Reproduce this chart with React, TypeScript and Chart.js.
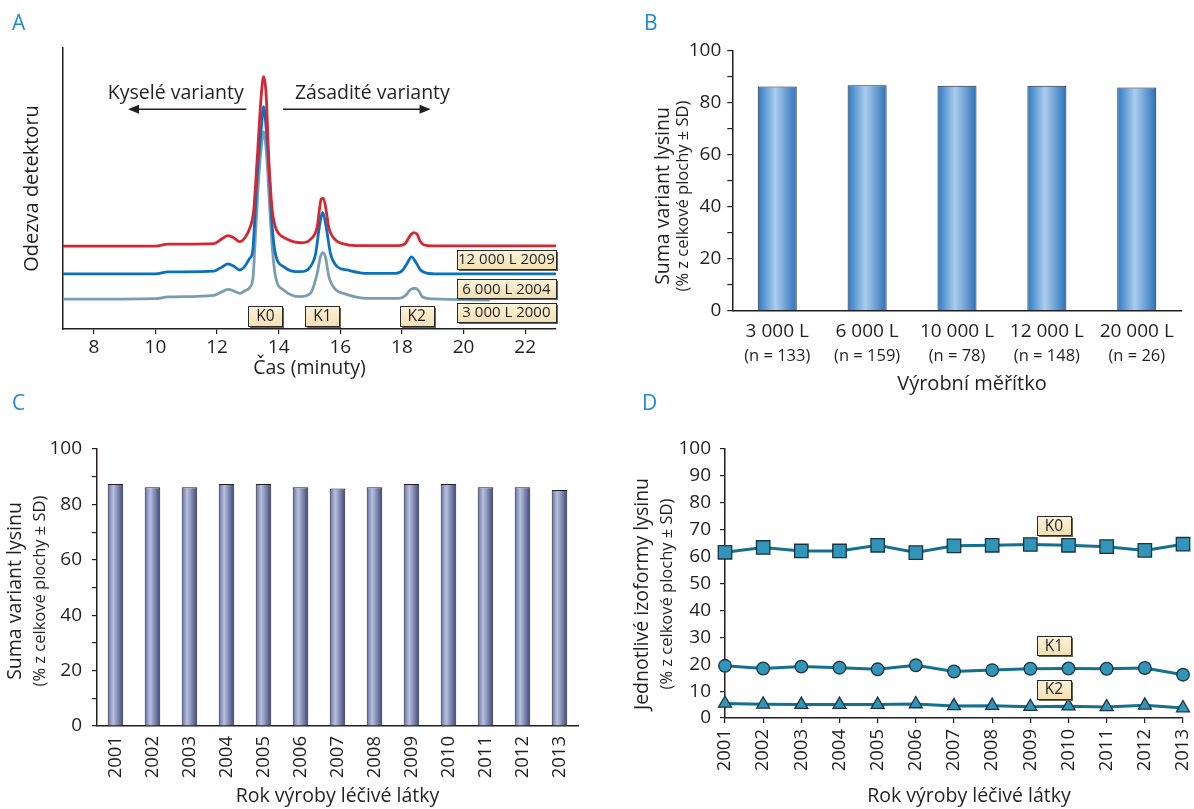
import React, { useEffect, useRef } from 'react';
import { Chart, registerables } from 'chart.js';

Chart.register(...registerables);

const FONT = "'Open Sans', 'Noto Sans', 'DejaVu Sans', sans-serif";
const INK = '#231f20';
const LETTER = '#1c8ad3';

// ---------- Panel A: chromatograms (time in minutes, detector response in arbitrary units) ----------
const timeTicks = [8, 10, 12, 14, 16, 18, 20, 22];
const trace2009: [number, number][] = [
  [7, 29.5], [10, 29.5], [10.4, 30.2], [11.9, 30.4], [12.15, 32.0], [12.35, 33.2], [12.55, 32.4],
  [12.73, 31.1], [12.9, 32.4], [13.08, 36.4], [13.19, 42.3], [13.3, 60.1], [13.44, 83.9], [13.51, 89.8],
  [13.59, 83.9], [13.68, 60.1], [13.79, 42.3], [13.89, 36.4], [14.0, 34.0], [14.2, 32.4], [14.5, 31.0],
  [14.75, 30.7], [15.03, 31.9], [15.25, 36.4], [15.32, 42.3], [15.38, 46.2], [15.45, 46.5], [15.54, 42.3],
  [15.62, 36.4], [15.84, 31.7], [16.1, 30.3], [16.5, 29.7], [17.9, 29.7], [18.1, 30.3], [18.25, 33.0],
  [18.38, 34.3], [18.5, 33.6], [18.58, 31.5], [18.7, 30.0], [19.0, 29.6], [23, 29.6],
];
const trace2004: [number, number][] = [
  [7, 19.6], [10, 19.6], [10.4, 20.3], [11.9, 20.6], [12.15, 22.0], [12.35, 23.2], [12.55, 22.3],
  [12.73, 21.0], [12.9, 22.3], [13.05, 25.0], [13.16, 28.0], [13.21, 36.4], [13.3, 54.2], [13.44, 72.0],
  [13.51, 79.1], [13.59, 72.0], [13.7, 54.2], [13.79, 36.4], [13.89, 27.0], [14.16, 22.2], [14.7, 20.4],
  [15.03, 22.2], [15.2, 26.9], [15.32, 36.4], [15.43, 41.4], [15.54, 36.4], [15.68, 26.9], [15.9, 22.2],
  [16.22, 21.0], [16.87, 19.8], [17.8, 19.8], [18.03, 21.0], [18.17, 23.4], [18.31, 25.7], [18.47, 23.4],
  [18.6, 21.0], [18.8, 19.9], [19.2, 19.6], [23, 19.6],
];
const trace2000: [number, number][] = [
  [7, 10.6], [10, 10.8], [10.4, 11.4], [11.9, 12.0], [12.15, 13.2], [12.35, 14.1], [12.55, 13.5],
  [12.73, 12.7], [12.9, 13.6], [13.08, 15.1], [13.17, 18.6], [13.23, 30.0], [13.32, 48.3], [13.42, 63.0],
  [13.51, 70.2], [13.6, 63.0], [13.7, 45.0], [13.8, 28.0], [13.9, 18.5], [14.16, 13.9], [14.7, 11.5],
  [15.03, 12.7], [15.25, 19.8], [15.35, 25.5], [15.43, 27.2], [15.52, 25.5], [15.63, 18.6], [15.85, 14.0],
  [16.1, 12.7], [16.87, 10.9], [17.9, 10.9], [18.1, 11.8], [18.28, 14.0], [18.42, 14.5], [18.55, 13.6],
  [18.66, 11.5], [19.03, 10.7], [20.85, 10.3],
];
const traceNames = ['12 000 L 2009', '6 000 L 2004', '3 000 L 2000'];
const peakNames = ['K0', 'K1', 'K2'];
const peakTimes = [13.57, 15.42, 18.48];

// ---------- Panel B: production scale ----------
const scaleNames = ['3 000 L', '6 000 L', '10 000 L', '12 000 L', '20 000 L'];
const scaleCounts = ['(n = 133)', '(n = 159)', '(n = 78)', '(n = 148)', '(n = 26)'];
const scaleSums = [86.2, 86.7, 86.5, 86.5, 85.8];

// ---------- Panel C / D: production year ----------
const years = ['2001', '2002', '2003', '2004', '2005', '2006', '2007', '2008', '2009', '2010', '2011', '2012', '2013'];
const yearSums = [87.4, 86.2, 86.2, 87.4, 87.4, 86.2, 85.7, 86.2, 87.4, 87.4, 86.2, 86.2, 85.2];
const k0Values = [61.6, 63.4, 62.1, 62.1, 64.2, 61.5, 64.0, 64.2, 64.5, 64.2, 63.7, 62.3, 64.6];
const k1Values = [19.4, 18.4, 19.1, 18.7, 18.1, 19.6, 17.3, 17.8, 18.3, 18.4, 18.3, 18.6, 16.1];
const k2Values = [5.4, 5.1, 5.0, 5.0, 5.0, 5.2, 4.5, 4.6, 4.2, 4.4, 4.1, 4.7, 3.7];
const isoNames = ['K0', 'K1', 'K2'];

// ---------- drawing helpers ----------
function text(ctx: CanvasRenderingContext2D, s: string, x: number, y: number, size: number,
  align: CanvasTextAlign = 'center', color = INK, rotate = false) {
  ctx.save();
  ctx.font = `${size}px ${FONT}`;
  ctx.fillStyle = color;
  ctx.textAlign = align;
  ctx.textBaseline = 'middle';
  if (rotate) {
    ctx.translate(x, y);
    ctx.rotate(-Math.PI / 2);
    ctx.fillText(s, 0, 0);
  } else {
    ctx.fillText(s, x, y);
  }
  ctx.restore();
}

function letter(ctx: CanvasRenderingContext2D, s: string, x: number, baseline: number) {
  ctx.save();
  ctx.font = `21px ${FONT}`;
  ctx.fillStyle = LETTER;
  ctx.textAlign = 'left';
  ctx.textBaseline = 'alphabetic';
  ctx.fillText(s, x, baseline);
  ctx.restore();
}

function tag(ctx: CanvasRenderingContext2D, s: string, cx: number, cy: number, w: number, h: number, size: number) {
  ctx.save();
  const x = Math.round(cx - w / 2) + 0.5;
  const y = Math.round(cy - h / 2) + 0.5;
  ctx.fillStyle = '#6a604f';
  ctx.fillRect(x + 1.5, y + 1.5, w, h);
  const g = ctx.createLinearGradient(0, y, 0, y + h);
  g.addColorStop(0, '#fcf2d8');
  g.addColorStop(1, '#f2e0b2');
  ctx.fillStyle = g;
  ctx.fillRect(x, y, w, h);
  ctx.strokeStyle = '#2a2a2a';
  ctx.lineWidth = 1;
  ctx.strokeRect(x, y, w, h);
  ctx.restore();
  text(ctx, s, cx, cy + 0.5, size);
}

function arrow(ctx: CanvasRenderingContext2D, x1: number, x2: number, y: number) {
  const dir = x2 > x1 ? 1 : -1;
  ctx.save();
  ctx.strokeStyle = INK;
  ctx.fillStyle = INK;
  ctx.lineWidth = 1.5;
  ctx.beginPath();
  ctx.moveTo(x1, y);
  ctx.lineTo(x2 - dir * 8, y);
  ctx.stroke();
  ctx.beginPath();
  ctx.moveTo(x2, y);
  ctx.lineTo(x2 - dir * 11, y - 4.5);
  ctx.lineTo(x2 - dir * 11, y + 4.5);
  ctx.closePath();
  ctx.fill();
  ctx.restore();
}

function barFill(stops: [number, string][], pct: number) {
  return (c: any) => {
    const chart = c.chart;
    const xs = chart.scales && chart.scales.x;
    if (c.type !== 'data' || !xs || !chart.chartArea) return stops[1][1];
    const n = chart.data.labels.length;
    const cx = xs.getPixelForValue(c.dataIndex);
    const w = (xs.width / n) * pct;
    const g = chart.ctx.createLinearGradient(cx - w / 2, 0, cx + w / 2, 0);
    stops.forEach(([o, col]) => g.addColorStop(o, col));
    return g;
  };
}

const tickFont = { family: FONT, size: 19 };
const noPlugins = { legend: { display: false }, tooltip: { enabled: false } };

function overlay(draw: (chart: any) => void) {
  return { id: 'overlay', afterDraw: (chart: any) => draw(chart) };
}

// fix the axis box size and drop the automatic edge padding for overflowing labels
function fixBox(prop: 'width' | 'height', size: number) {
  return (s: any) => {
    s[prop] = size;
    s.paddingLeft = 0;
    s.paddingRight = 0;
    s.paddingTop = 0;
    s.paddingBottom = 0;
  };
}

// ---------- configs ----------
function configA(): any {
  const colors = ['#d62631', '#0b70be', '#7b9db0'];
  const traces = [trace2009, trace2004, trace2000];
  return {
    type: 'line',
    data: {
      datasets: traces.map((t, i) => ({
        label: traceNames[i],
        data: t.map(([x, y]) => ({ x, y })),
        borderColor: colors[i],
        borderWidth: 2.8,
        pointRadius: 0,
        cubicInterpolationMode: 'monotone',
        fill: false,
      })),
    },
    options: {
      animation: false,
      responsive: false,
      layout: { padding: { left: 0, top: 48, right: 41, bottom: 0 } },
      plugins: noPlugins,
      scales: {
        x: {
          type: 'linear', min: 7, max: 23,
          afterBuildTicks: (s: any) => { s.ticks = timeTicks.map((v) => ({ value: v })); },
          afterFit: fixBox('height', 400 - 329),
          grid: { display: true, drawOnChartArea: false, tickLength: 5, color: INK, lineWidth: 1.2 },
          border: { display: true, color: INK, width: 1.5 },
          ticks: { font: tickFont, color: INK, padding: 2, maxRotation: 0, autoSkip: false },
        },
        y: {
          type: 'linear', min: 0, max: 100,
          afterFit: fixBox('width', 63),
          grid: { display: false },
          border: { display: true, color: INK, width: 1.5 },
          ticks: { display: false },
        },
      },
    },
    plugins: [overlay((chart) => {
      const { ctx, chartArea: ca, scales: { x: xs, y: ys } } = chart;
      letter(ctx, 'A', 12, 30);
      text(ctx, 'Odezva detektoru', ca.left - 31, (ca.top + ca.bottom) / 2, 20, 'center', INK, true);
      text(ctx, 'Čas (minuty)', (ca.left + ca.right) / 2, 368, 19.5);
      const ty = ys.getPixelForValue(84);
      const ay = ys.getPixelForValue(78.2);
      text(ctx, 'Kyselé varianty', xs.getPixelForValue(10.66), ty, 19.5);
      arrow(ctx, xs.getPixelForValue(12.95), xs.getPixelForValue(9.11), ay);
      text(ctx, 'Zásadité varianty', xs.getPixelForValue(17.04), ty, 19.5);
      arrow(ctx, xs.getPixelForValue(14.14), xs.getPixelForValue(18.93), ay);
      peakNames.forEach((n, i) => tag(ctx, n, xs.getPixelForValue(peakTimes[i]), ys.getPixelForValue(4.6), 34, 20, 15.5));
      const levels = [24.7, 14.3, 5.9];
      traceNames.forEach((n, i) => tag(ctx, n, xs.getPixelForValue(21.39), ys.getPixelForValue(levels[i]), 99, 19, 15));
    })],
  };
}

function configB(): any {
  const pct = 0.434;
  return {
    type: 'bar',
    data: {
      labels: scaleNames,
      datasets: [{
        data: scaleSums,
        backgroundColor: barFill([[0, '#2b79c6'], [0.45, '#abcdec'], [1, '#2a72bc']], pct),
        borderColor: '#1f1f1f',
        borderWidth: 1,
        barPercentage: pct,
        categoryPercentage: 1,
      }],
    },
    options: {
      animation: false,
      responsive: false,
      layout: { padding: { left: 0, top: 50.7, right: 12.3, bottom: 0 } },
      plugins: noPlugins,
      scales: {
        x: {
          afterFit: fixBox('height', 400 - 310.7),
          grid: { display: true, drawOnChartArea: false, drawTicks: false },
          border: { display: true, color: INK, width: 1.5 },
          ticks: { font: { family: FONT, size: 19 }, color: INK, padding: 9, maxRotation: 0, autoSkip: false },
        },
        y: {
          min: 0, max: 100,
          afterFit: fixBox('width', 135.3),
          grid: { display: true, drawOnChartArea: false, tickLength: 5, color: INK, lineWidth: 1.2 },
          border: { display: true, color: INK, width: 1.5 },
          ticks: { stepSize: 10, font: tickFont, color: INK, padding: 6,
            callback: (v: any) => (Number(v) % 20 === 0 ? String(v) : '') },
        },
      },
    },
    plugins: [overlay((chart) => {
      const { ctx, chartArea: ca, scales: { x: xs } } = chart;
      letter(ctx, 'B', 47, 30);
      text(ctx, 'Suma variant lysinu', 66, 196, 19.5, 'center', INK, true);
      text(ctx, '(% z celkové plochy ± SD)', 86, 196, 16.5, 'center', INK, true);
      scaleCounts.forEach((s, i) => text(ctx, s, xs.getPixelForValue(i), 356, 16.5));
      text(ctx, 'Výrobní měřítko', (ca.left + ca.right) / 2 + 15, 384, 20);
    })],
  };
}

function configC(): any {
  const pct = 0.42;
  return {
    type: 'bar',
    data: {
      labels: years,
      datasets: [{
        data: yearSums,
        backgroundColor: barFill([[0, '#5f6fa2'], [0.35, '#bac1df'], [1, '#3a4878']], pct),
        borderColor: '#1f1f1f',
        borderWidth: 1,
        barPercentage: pct,
        categoryPercentage: 1,
      }],
    },
    options: {
      animation: false,
      responsive: false,
      layout: { padding: { left: 0, top: 64, right: 19, bottom: 0 } },
      plugins: noPlugins,
      scales: {
        x: {
          afterFit: fixBox('height', 424 - 341),
          grid: { display: true, drawOnChartArea: false, drawTicks: false },
          border: { display: true, color: INK, width: 1.5 },
          ticks: { font: { family: FONT, size: 18.5 }, color: INK, padding: 10, minRotation: 90, maxRotation: 90, autoSkip: false },
        },
        y: {
          min: 0, max: 100,
          afterFit: fixBox('width', 97),
          grid: { display: true, drawOnChartArea: false, tickLength: 5, color: INK, lineWidth: 1.2 },
          border: { display: true, color: INK, width: 1.5 },
          ticks: { stepSize: 10, font: tickFont, color: INK, padding: 10,
            callback: (v: any) => (Number(v) % 20 === 0 ? String(v) : '') },
        },
      },
    },
    plugins: [overlay((chart) => {
      const { ctx, chartArea: ca } = chart;
      letter(ctx, 'C', 12, 25);
      text(ctx, 'Suma variant lysinu', 15.5, 206, 19.5, 'center', INK, true);
      text(ctx, '(% z celkové plochy ± SD)', 40.5, 206, 16.5, 'center', INK, true);
      text(ctx, 'Rok výroby léčivé látky', (ca.left + ca.right) / 2, 411.7, 19.5);
    })],
  };
}

function configD(): any {
  const line = '#13708f';
  const fillC = '#3195b9';
  const edge = '#1b3442';
  const series = [k0Values, k1Values, k2Values];
  const styles = ['rect', 'circle', 'triangle'];
  const radii = [9.5, 6.3, 7.5];
  return {
    type: 'line',
    data: {
      labels: years,
      datasets: series.map((d, i) => ({
        label: isoNames[i],
        data: d,
        borderColor: line,
        borderWidth: 3,
        pointStyle: styles[i],
        pointRadius: radii[i],
        pointBackgroundColor: fillC,
        pointBorderColor: edge,
        pointBorderWidth: 1.3,
        tension: 0,
        clip: false,
      })),
    },
    options: {
      animation: false,
      responsive: false,
      layout: { padding: { left: 0, top: 64, right: 11, bottom: 0 } },
      plugins: noPlugins,
      scales: {
        x: {
          offset: false,
          afterFit: fixBox('height', 424 - 333),
          grid: { display: true, drawOnChartArea: false, tickLength: 5, color: INK, lineWidth: 1.2 },
          border: { display: true, color: INK, width: 1.5 },
          ticks: { font: { family: FONT, size: 18.5 }, color: INK, padding: 6, minRotation: 90, maxRotation: 90, autoSkip: false },
        },
        y: {
          min: 0, max: 100,
          afterFit: fixBox('width', 128),
          grid: { display: true, drawOnChartArea: false, tickLength: 5, color: INK, lineWidth: 1.2 },
          border: { display: true, color: INK, width: 1.5 },
          ticks: { stepSize: 10, font: tickFont, color: INK, padding: 9 },
        },
      },
    },
    plugins: [overlay((chart) => {
      const { ctx, chartArea: ca, scales: { x: xs, y: ys } } = chart;
      letter(ctx, 'D', 45, 25);
      text(ctx, 'Jednotlivé izoformy lysinu', 45, 209, 19.5, 'center', INK, true);
      text(ctx, '(% z celkové plochy ± SD)', 70, 209, 16.5, 'center', INK, true);
      text(ctx, 'Rok výroby léčivé látky', (ca.left + ca.right) / 2 + 15, 411.7, 19.5);
      const levels = [71.4, 26.8, 10.6];
      isoNames.forEach((n, i) => tag(ctx, n, xs.getPixelForValue(8.62), ys.getPixelForValue(levels[i]), 34, 19, 15.5));
    })],
  };
}

export default function App() {
  const aRef = useRef<HTMLCanvasElement>(null);
  const bRef = useRef<HTMLCanvasElement>(null);
  const cRef = useRef<HTMLCanvasElement>(null);
  const dRef = useRef<HTMLCanvasElement>(null);

  useEffect(() => {
    const charts = [
      new Chart(aRef.current as HTMLCanvasElement, configA()),
      new Chart(bRef.current as HTMLCanvasElement, configB()),
      new Chart(cRef.current as HTMLCanvasElement, configC()),
      new Chart(dRef.current as HTMLCanvasElement, configD()),
    ];
    return () => charts.forEach((c) => c.destroy());
  }, []);

  const cv = (left: number, top: number, w: number, h: number): React.CSSProperties => ({
    position: 'absolute', left, top, width: w, height: h,
  });

  return (
    <div style={{ position: 'absolute', left: 0, top: 0, width: 1194, height: 809, background: '#fff', overflow: 'hidden' }}>
      <canvas ref={aRef} width={597} height={400} style={cv(0, 0, 597, 400)} />
      <canvas ref={bRef} width={597} height={400} style={cv(597, 0, 597, 400)} />
      <canvas ref={cRef} width={597} height={424} style={cv(0, 385, 597, 424)} />
      <canvas ref={dRef} width={597} height={424} style={cv(597, 385, 597, 424)} />
    </div>
  );
}
